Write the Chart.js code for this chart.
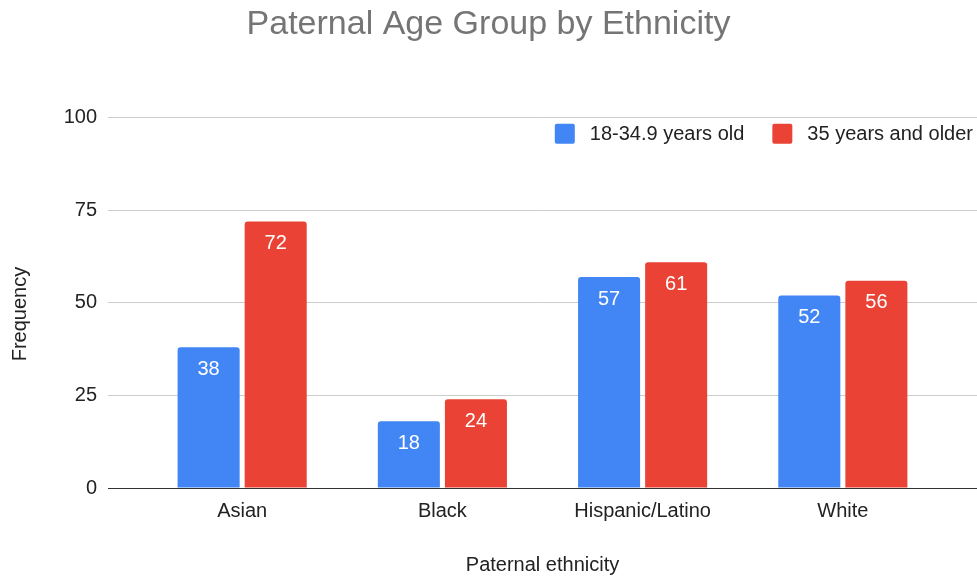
<!DOCTYPE html>
<html>
<head>
<meta charset="utf-8">
<title>Paternal Age Group by Ethnicity</title>
<script src="https://cdn.jsdelivr.net/npm/chart.js@4/dist/chart.umd.min.js"></script>
<style>
  html, body { margin: 0; padding: 0; background: #ffffff; }
  canvas { display: block; }
</style>
</head>
<body>
<canvas id="chart" width="977" height="577"></canvas>
<script>
// Categories and series
const ethnicities = ['Asian', 'Black', 'Hispanic/Latino', 'White'];
const youngerFathers = [38, 18, 57, 52];   // 18-34.9 years old
const olderFathers = [72, 24, 61, 56];     // 35 years and older
const yTicks = [0, 25, 50, 75, 100];

const FONT = '"Liberation Sans", Arial, sans-serif';
const BLUE = '#4285F4';
const RED = '#EA4335';

// White value labels inside the top of each bar
const barValueLabels = {
  id: 'barValueLabels',
  afterDatasetsDraw(chart) {
    const ctx = chart.ctx;
    ctx.save();
    ctx.font = '20px ' + FONT;
    ctx.fillStyle = '#ffffff';
    ctx.textAlign = 'center';
    ctx.textBaseline = 'middle';
    chart.data.datasets.forEach((ds, di) => {
      chart.getDatasetMeta(di).data.forEach((bar, i) => {
        ctx.fillText(String(ds.data[i].y), bar.x, bar.y + 22);
      });
    });
    ctx.restore();
  }
};

// Legend in the top-right corner of the plot
const cornerLegend = {
  id: 'cornerLegend',
  afterDraw(chart) {
    const ctx = chart.ctx;
    const box = 20, textGap = 15, itemGap = 28;
    ctx.save();
    ctx.font = '20px ' + FONT;
    ctx.textBaseline = 'middle';
    ctx.textAlign = 'left';
    const items = chart.data.datasets.map(ds => ({
      text: ds.label, color: ds.backgroundColor, w: ctx.measureText(ds.label).width
    }));
    const total = items.reduce((s, it) => s + box + textGap + it.w, 0) + itemGap * (items.length - 1);
    let x = chart.chartArea.right - 4 - total;
    const cy = chart.chartArea.top + 16;
    items.forEach(it => {
      ctx.fillStyle = it.color;
      ctx.beginPath();
      ctx.roundRect(x, cy - box / 2, box, box, 2);
      ctx.fill();
      ctx.fillStyle = '#222222';
      ctx.fillText(it.text, x + box + textGap, cy + 1);
      x += box + textGap + it.w + itemGap;
    });
    ctx.restore();
  }
};

const toPoints = arr => arr.map((v, i) => ({ x: i, y: v }));

new Chart(document.getElementById('chart'), {
  type: 'bar',
  data: {
    datasets: [
      { label: '18-34.9 years old', data: toPoints(youngerFathers), backgroundColor: BLUE,
        borderRadius: 3, categoryPercentage: 0.67, barPercentage: 0.925 },
      { label: '35 years and older', data: toPoints(olderFathers), backgroundColor: RED,
        borderRadius: 3, categoryPercentage: 0.67, barPercentage: 0.925 }
    ]
  },
  options: {
    responsive: false,
    animation: false,
    devicePixelRatio: 1,
    layout: { padding: 0 },
    plugins: {
      legend: { display: false },
      tooltip: { enabled: false },
      title: {
        display: true,
        text: 'Paternal Age Group by Ethnicity',
        color: '#757575',
        font: { family: FONT, size: 34, weight: 'normal' },
        padding: { top: 4, bottom: 73 }
      }
    },
    scales: {
      x: {
        type: 'linear',
        offset: false,
        min: -0.67,
        max: 3.67,
        afterBuildTicks(scale) {
          scale.ticks = ethnicities.map((_, i) => ({ value: i }));
        },
        afterFit(scale) { scale.height = 89; },
        grid: { display: false, drawTicks: false },
        border: { display: true, color: '#333333', width: 1 },
        ticks: {
          autoSkip: false,
          maxRotation: 0,
          padding: 11,
          color: '#222222',
          font: { family: FONT, size: 20 },
          callback: v => ethnicities[v] ?? ''
        },
        title: {
          display: true,
          text: 'Paternal ethnicity',
          color: '#222222',
          font: { family: FONT, size: 20 },
          padding: { top: 0, bottom: 0 }
        }
      },
      y: {
        min: 0,
        max: 100,
        afterBuildTicks(scale) {
          scale.ticks = yTicks.map(v => ({ value: v }));
        },
        afterFit(scale) { scale.width = 108; },
        grid: {
          drawTicks: false,
          color: c => (c.tick && c.tick.value === 0) ? '#333333' : '#cccccc'
        },
        border: { display: false },
        ticks: {
          padding: 11,
          color: '#222222',
          font: { family: FONT, size: 20 }
        },
        title: {
          display: true,
          // trailing spaces nudge the rotated title a little lower
          text: 'Frequency    ',
          color: '#222222',
          font: { family: FONT, size: 20 },
          padding: { top: 8, bottom: 0 }
        }
      }
    }
  },
  plugins: [barValueLabels, cornerLegend]
});
</script>
</body>
</html>
